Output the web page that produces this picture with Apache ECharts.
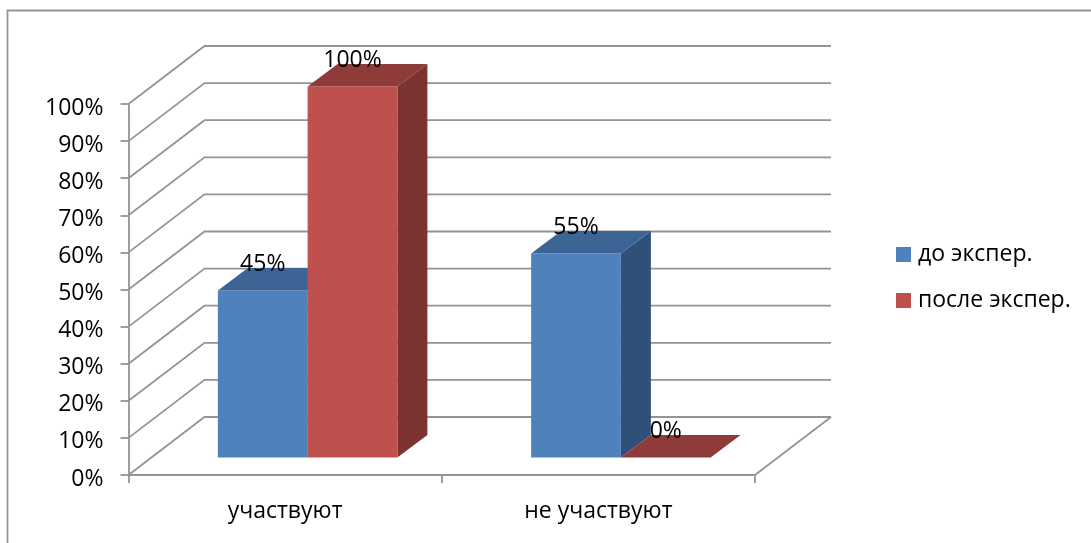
<!DOCTYPE html>
<html>
<head>
<meta charset="utf-8">
<title>Chart</title>
<script src="https://cdn.jsdelivr.net/npm/echarts@6/dist/echarts.min.js"></script>
<style>
  html, body { margin: 0; padding: 0; background: #fff; }
  #chart-container { width: 1091px; height: 543px; }
</style>
</head>
<body>
<div id="chart-container"></div>
<script>
const categories = ['участвуют', 'не участвуют'];
const seriesNames = ['до экспер.', 'после экспер.'];
const beforeValues = [45, 55];
const afterValues = [100, 0];
const yTicks = [0, 10, 20, 30, 40, 50, 60, 70, 80, 90, 100];

const FONT = '"Open Sans", sans-serif';
const GRID_COLOR = '#949494';

// fake 3D: offsets in px of the back wall and of the bars inside the box
const WALL_DX = 76, WALL_DY = 58;
const BAR_DX = 22.5, BAR_DY = 17.5;
const DEPTH_DX = 30, DEPTH_DY = 22.5;

const chart = echarts.init(document.getElementById('chart-container'));

// side wall + back wall gridlines
const renderWall = (params, api) => {
  const v = api.value(1);
  const p = api.coord([0, v]);
  const band = api.size([1, 0])[0];
  const left = p[0] - band / 2;
  const right = left + band * categories.length;
  const style = { stroke: GRID_COLOR, lineWidth: 1.8, fill: null };
  const children = [{
    type: 'polyline',
    shape: { points: [[left, p[1]], [left + WALL_DX, p[1] - WALL_DY], [right + WALL_DX, p[1] - WALL_DY]] },
    style
  }];
  // right edge of the floor
  if (v === 0) {
    children.push({
      type: 'line',
      shape: { x1: right, y1: p[1], x2: right + WALL_DX, y2: p[1] - WALL_DY },
      style
    });
  }
  return { type: 'group', children };
};

const makeBarRenderer = (slot, front, top, side) => (params, api) => {
  const base = api.coord([api.value(0), 0]);
  const tip = api.coord([api.value(0), api.value(1)]);
  const band = api.size([1, 0])[0];
  const w = band * 0.2865;
  const x0 = base[0] - w + slot * w + BAR_DX;
  const x1 = x0 + w;
  const y0 = base[1] - BAR_DY;
  const y1 = tip[1] - BAR_DY;
  const children = [];
  if (y0 - y1 > 0) {
    children.push({
      type: 'polygon',
      shape: { points: [[x1, y0], [x1 + DEPTH_DX, y0 - DEPTH_DY], [x1 + DEPTH_DX, y1 - DEPTH_DY], [x1, y1]] },
      style: { fill: side }
    });
    children.push({
      type: 'rect',
      shape: { x: x0, y: y1, width: w, height: y0 - y1 },
      style: { fill: front }
    });
  }
  children.push({
    type: 'polygon',
    shape: { points: [[x0, y1], [x0 + DEPTH_DX, y1 - DEPTH_DY], [x1 + DEPTH_DX, y1 - DEPTH_DY], [x1, y1]] },
    style: { fill: top }
  });
  children.push({
    type: 'text',
    z2: 10,
    style: {
      text: api.value(1) + '%',
      x: (x0 + x1) / 2,
      y: y1 - 26,
      align: 'center',
      verticalAlign: 'middle',
      font: '23px ' + FONT,
      fill: '#000'
    }
  });
  return { type: 'group', children };
};

const options = {
  animation: false,
  textStyle: { fontFamily: FONT },
  graphic: [{
    type: 'polyline',
    silent: true,
    shape: { points: [[7.5, 543], [7.5, 10.5], [1091, 10.5]] },
    style: { stroke: GRID_COLOR, lineWidth: 1.8, fill: null }
  }],
  grid: { left: 128.5, right: 336, top: 104, bottom: 68 },
  legend: {
    orient: 'vertical',
    left: 891,
    top: 238,
    itemWidth: 15,
    itemHeight: 15,
    itemGap: 23,
    icon: 'rect',
    data: seriesNames,
    textStyle: { fontSize: 23, color: '#000', fontFamily: FONT, padding: [0, 0, 0, 2] }
  },
  xAxis: {
    type: 'category',
    data: categories,
    axisLine: { lineStyle: { color: GRID_COLOR, width: 1.8 } },
    axisTick: { show: true, length: 8, lineStyle: { color: GRID_COLOR, width: 1.8 } },
    axisLabel: { fontSize: 23, color: '#000', margin: 25 },
    splitLine: { show: false }
  },
  yAxis: {
    type: 'value',
    min: 0,
    max: 100,
    interval: 10,
    axisLine: { show: true, lineStyle: { color: GRID_COLOR, width: 1.8 } },
    axisTick: { show: true, length: 8, lineStyle: { color: GRID_COLOR, width: 1.8 } },
    // top + short line height nudges the labels a little below their ticks
    axisLabel: { fontSize: 23, color: '#000', margin: 25, verticalAlign: 'top', lineHeight: 8, formatter: '{value}%' },
    splitLine: { show: false }
  },
  series: [
    {
      type: 'custom',
      name: 'wall',
      silent: true,
      data: yTicks.map((t) => [0, t]),
      renderItem: renderWall,
      z: 1
    },
    {
      type: 'custom',
      name: seriesNames[0],
      itemStyle: { color: '#4F81BD' },
      data: beforeValues.map((v, i) => [i, v]),
      renderItem: makeBarRenderer(0, '#4F81BD', '#3C6494', '#2F5078'),
      z: 2
    },
    {
      type: 'custom',
      name: seriesNames[1],
      itemStyle: { color: '#C0504D' },
      data: afterValues.map((v, i) => [i, v]),
      renderItem: makeBarRenderer(1, '#C0504D', '#8E3B39', '#7B3230'),
      z: 3
    }
  ]
};

chart.setOption(options);
</script>
</body>
</html>
